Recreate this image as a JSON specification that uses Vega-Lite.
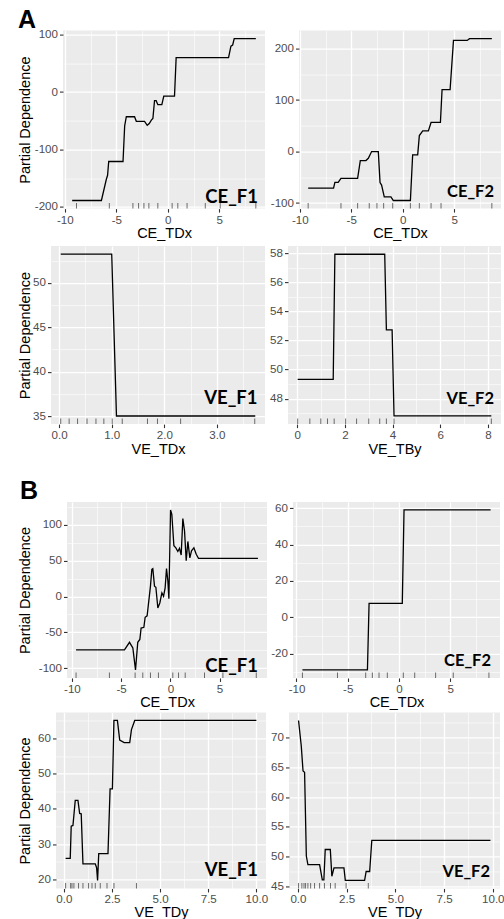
{
"$schema": "https://vega.github.io/schema/vega-lite/v6.json",
"background": "white",
"padding": {"left": 10, "top": 7.6, "right": 0, "bottom": 0},
"config": {
  "font": "Liberation Sans",
  "view": {"fill": "#EBEBEB", "stroke": null},
  "axis": {"domain": false, "grid": true, "gridColor": "#FFFFFF", "tickColor": "#333333", "tickWidth": 1.1, "tickSize": 3.5, "labelPadding": 2, "labelFont": "Liberation Sans", "labelFontSize": 11.6, "labelColor": "#4D4D4D", "titleFont": "Liberation Sans", "titleFontSize": 14.5, "titleFontWeight": "normal", "titleColor": "#000000", "labelOverlap": false, "labelFlush": false},
  "axisX": {"titlePadding": 4, "minExtent": 14, "maxExtent": 14},
  "axisY": {"titlePadding": 2},
  "title": {"anchor": "start", "frame": "bounds", "font": "Liberation Sans", "fontSize": 25, "fontWeight": "bold", "color": "#000000"}
},
"datasets": {
  "p1_line": [{"x":-9.29,"y":-189},{"x":-6.45,"y":-189},{"x":-5.97,"y":-152},{"x":-5.85,"y":-145},{"x":-5.74,"y":-121},{"x":-4.35,"y":-121},{"x":-4.19,"y":-59},{"x":-4.03,"y":-43},{"x":-3.23,"y":-43},{"x":-3.06,"y":-51},{"x":-2.26,"y":-51},{"x":-2.0,"y":-58},{"x":-1.8,"y":-55},{"x":-1.6,"y":-49},{"x":-1.45,"y":-46},{"x":-1.29,"y":-15},{"x":-1.13,"y":-15},{"x":-0.97,"y":-22},{"x":-0.58,"y":-22},{"x":-0.39,"y":-7},{"x":0.65,"y":-7},{"x":0.81,"y":60},{"x":5.9,"y":60},{"x":6.13,"y":80},{"x":6.3,"y":82},{"x":6.45,"y":93},{"x":8.55,"y":93}],
  "p1_rug": [{"x":-8.87},{"x":-5.68},{"x":-3.39},{"x":-2.84},{"x":-2.32},{"x":-1.84},{"x":-0.97},{"x":0.42},{"x":0.97},{"x":1.87},{"x":3.64},{"x":5.09},{"x":8.55}],
  "p2_line": [{"x":-9.19,"y":-71},{"x":-6.72,"y":-71},{"x":-6.59,"y":-60},{"x":-6.27,"y":-60},{"x":-6.0,"y":-52},{"x":-4.38,"y":-52},{"x":-4.12,"y":-17.5},{"x":-3.57,"y":-17.5},{"x":-3.34,"y":-13},{"x":-3.02,"y":0},{"x":-2.37,"y":0},{"x":-2.2,"y":-60},{"x":-2.05,"y":-65},{"x":-1.79,"y":-88},{"x":-1.14,"y":-88},{"x":-0.91,"y":-95},{"x":0.75,"y":-95},{"x":0.97,"y":-6.5},{"x":1.46,"y":-6.5},{"x":1.62,"y":31},{"x":1.95,"y":40},{"x":2.5,"y":40},{"x":2.76,"y":56.5},{"x":3.67,"y":56.5},{"x":3.83,"y":120},{"x":4.61,"y":120},{"x":4.94,"y":215.6},{"x":6.27,"y":215.6},{"x":6.5,"y":219},{"x":8.67,"y":219}],
  "p2_rug": [{"x":-9.19},{"x":-6.0},{"x":-4.38},{"x":-3.25},{"x":-2.5},{"x":-1.85},{"x":-0.97},{"x":0.75},{"x":1.62},{"x":2.76},{"x":3.73},{"x":8.67}],
  "p3_line": [{"x":0.03,"y":53.23},{"x":1.0,"y":53.23},{"x":1.09,"y":35.0},{"x":3.73,"y":35.0}],
  "p3_rug": [{"x":0.03},{"x":0.19},{"x":0.35},{"x":0.53},{"x":0.7},{"x":0.85},{"x":1.01},{"x":1.2},{"x":1.68},{"x":1.87},{"x":2.31},{"x":3.72}],
  "p4_line": [{"x":0.02,"y":49.32},{"x":1.51,"y":49.32},{"x":1.58,"y":57.93},{"x":3.67,"y":57.93},{"x":3.74,"y":52.73},{"x":3.98,"y":52.73},{"x":4.06,"y":46.81},{"x":8.14,"y":46.81}],
  "p4_rug": [{"x":0.02},{"x":0.53},{"x":0.99},{"x":1.27},{"x":1.55},{"x":2.03},{"x":2.49},{"x":3.0},{"x":3.46},{"x":3.74},{"x":4.06},{"x":8.14}],
  "p5_line": [{"x":-9.58,"y":-74.5},{"x":-4.66,"y":-74.5},{"x":-4.15,"y":-64},{"x":-3.81,"y":-72},{"x":-3.54,"y":-102.6},{"x":-3.31,"y":-64},{"x":-3.1,"y":-60},{"x":-2.97,"y":-44},{"x":-2.69,"y":-43},{"x":-2.56,"y":-29},{"x":-2.36,"y":-27},{"x":-2.02,"y":14.5},{"x":-1.88,"y":38},{"x":-1.78,"y":39},{"x":-1.61,"y":14.5},{"x":-1.47,"y":13},{"x":-1.27,"y":-16},{"x":-1.07,"y":-9},{"x":-0.86,"y":5},{"x":-0.69,"y":0.5},{"x":-0.53,"y":12},{"x":-0.39,"y":39},{"x":-0.25,"y":21.5},{"x":-0.15,"y":-3},{"x":0.02,"y":121},{"x":0.15,"y":115},{"x":0.36,"y":71},{"x":0.56,"y":68},{"x":0.76,"y":63},{"x":0.93,"y":67.5},{"x":1.1,"y":58},{"x":1.27,"y":109},{"x":1.44,"y":92},{"x":1.61,"y":50},{"x":1.78,"y":77},{"x":1.98,"y":54},{"x":2.15,"y":64},{"x":2.39,"y":68},{"x":2.63,"y":59},{"x":2.86,"y":53.4},{"x":8.9,"y":53.4}],
  "p5_rug": [{"x":-9.58},{"x":-6.19},{"x":-3.58},{"x":-2.8},{"x":-2.02},{"x":-1.21},{"x":0.25},{"x":0.83},{"x":1.51},{"x":3.47},{"x":5.34},{"x":8.73}],
  "p6_line": [{"x":-9.42,"y":-28.9},{"x":-3.08,"y":-28.9},{"x":-2.92,"y":7.7},{"x":0.32,"y":7.7},{"x":0.49,"y":59.0},{"x":8.93,"y":59.0}],
  "p6_rug": [{"x":-9.42},{"x":-6.0},{"x":-3.25},{"x":-2.6},{"x":-1.95},{"x":-1.14},{"x":0.42},{"x":1.53},{"x":3.57},{"x":5.29},{"x":8.77}],
  "p7_line": [{"x":0.09,"y":25.95},{"x":0.33,"y":25.95},{"x":0.38,"y":35.1},{"x":0.47,"y":35.3},{"x":0.59,"y":42.4},{"x":0.73,"y":42.4},{"x":0.82,"y":38.7},{"x":0.9,"y":38.6},{"x":0.99,"y":24.4},{"x":1.63,"y":24.4},{"x":1.7,"y":23.3},{"x":1.75,"y":19.7},{"x":1.81,"y":27.3},{"x":2.29,"y":27.3},{"x":2.4,"y":45.7},{"x":2.52,"y":45.7},{"x":2.6,"y":65.1},{"x":2.78,"y":65.1},{"x":2.9,"y":59.5},{"x":3.13,"y":58.8},{"x":3.42,"y":58.8},{"x":3.51,"y":62.5},{"x":3.68,"y":65.1},{"x":10.0,"y":65.1}],
  "p7_rug": [{"x":0.09},{"x":0.35},{"x":0.42},{"x":0.52},{"x":0.76},{"x":0.99},{"x":1.28},{"x":1.46},{"x":1.63},{"x":1.89},{"x":2.24},{"x":2.6},{"x":3.77}],
  "p8_line": [{"x":0.03,"y":72.9},{"x":0.17,"y":68.6},{"x":0.26,"y":64.4},{"x":0.34,"y":64.2},{"x":0.43,"y":50.1},{"x":0.51,"y":48.65},{"x":1.11,"y":48.65},{"x":1.25,"y":46.1},{"x":1.33,"y":46.1},{"x":1.4,"y":51.2},{"x":1.66,"y":51.2},{"x":1.74,"y":46.7},{"x":1.85,"y":48.1},{"x":2.36,"y":48.1},{"x":2.43,"y":46.0},{"x":3.42,"y":46.0},{"x":3.5,"y":47.5},{"x":3.68,"y":47.5},{"x":3.79,"y":52.75},{"x":9.88,"y":52.75}],
  "p8_rug": [{"x":0.03},{"x":0.2},{"x":0.31},{"x":0.39},{"x":0.51},{"x":0.65},{"x":0.85},{"x":1.11},{"x":1.36},{"x":1.67},{"x":1.91},{"x":2.47},{"x":3.61}]
},
"spacing": 23.35,
"vconcat": [
 {"title": {"text": "A", "offset": -4.3, "dx": 8},
  "spacing": 5.5,
  "vconcat": [
   {"spacing": 5, "hconcat": [
    {"width": 2, "height": 1, "view": {"fill": null, "stroke": null}, "data": {"values": []}, "mark": {"type": "point", "opacity": 0}},
    {"width": 202, "height": 178,
     "encoding": {
      "x": {"field": "x", "type": "quantitative", "scale": {"domain": [-10.18, 9.44], "nice": false, "zero": false},
            "axis": {"title": "CE_TDx", "values": [-10,-7.5,-5,-2.5,0,2.5,5,7.5], "labelExpr": "datum.value % 5 === 0 ? replace(datum.label, '\u2212', '-') : ''", "tickOpacity": {"condition": {"test": "datum.value % 5 === 0", "value": 1}, "value": 0}, "gridWidth": {"condition": {"test": "datum.value % 5 === 0", "value": 1.3}, "value": 0.6}}},
      "y": {"field": "y", "type": "quantitative", "scale": {"domain": [-203.1, 107.1], "nice": false, "zero": false},
            "axis": {"title": "Partial Dependence", "minExtent": 28.5, "maxExtent": 28.5, "values": [-200,-150,-100,-50,0,50,100], "labelExpr": "datum.value % 100 === 0 ? replace(datum.label, '\u2212', '-') : ''", "tickOpacity": {"condition": {"test": "datum.value % 100 === 0", "value": 1}, "value": 0}, "gridWidth": {"condition": {"test": "datum.value % 100 === 0", "value": 1.3}, "value": 0.6}}}
     },
     "layer": [
      {"data": {"name": "p1_line"}, "mark": {"type": "line", "color": "#000000", "strokeWidth": 1.3}},
      {"data": {"name": "p1_rug"}, "mark": {"type": "tick", "orient": "vertical", "color": "#333333", "thickness": 1, "size": 11, "clip": true}, "encoding": {"y": {"value": "height"}}},
      {"data": {"values": [{"label": "CE_F1"}]}, "mark": {"type": "text", "font": "Lato", "fontWeight": "bold", "fontSize": 18.5, "align": "right", "baseline": "alphabetic", "dx": -7, "dy": -5.5, "color": "#000000"}, "encoding": {"x": {"value": "width"}, "y": {"value": "height"}, "text": {"field": "label", "type": "nominal"}}}
     ]},
    {"width": 202, "height": 178,
     "encoding": {
      "x": {"field": "x", "type": "quantitative", "scale": {"domain": [-10.08, 9.56], "nice": false, "zero": false},
            "axis": {"title": "CE_TDx", "values": [-10,-7.5,-5,-2.5,0,2.5,5,7.5], "labelExpr": "datum.value % 5 === 0 ? replace(datum.label, '\u2212', '-') : ''", "tickOpacity": {"condition": {"test": "datum.value % 5 === 0", "value": 1}, "value": 0}, "gridWidth": {"condition": {"test": "datum.value % 5 === 0", "value": 1.3}, "value": 0.6}}},
      "y": {"field": "y", "type": "quantitative", "scale": {"domain": [-110.7, 234.7], "nice": false, "zero": false},
            "axis": {"title": null, "values": [-100,-50,0,50,100,150,200], "labelExpr": "datum.value % 100 === 0 ? replace(datum.label, '\u2212', '-') : ''", "tickOpacity": {"condition": {"test": "datum.value % 100 === 0", "value": 1}, "value": 0}, "gridWidth": {"condition": {"test": "datum.value % 100 === 0", "value": 1.3}, "value": 0.6}}}
     },
     "layer": [
      {"data": {"name": "p2_line"}, "mark": {"type": "line", "color": "#000000", "strokeWidth": 1.3}},
      {"data": {"name": "p2_rug"}, "mark": {"type": "tick", "orient": "vertical", "color": "#333333", "thickness": 1, "size": 11, "clip": true}, "encoding": {"y": {"value": "height"}}},
      {"data": {"values": [{"label": "CE_F2"}]}, "mark": {"type": "text", "font": "Lato", "fontWeight": "bold", "fontSize": 16.5, "align": "right", "baseline": "alphabetic", "dx": -7, "dy": -11.5, "color": "#000000"}, "encoding": {"x": {"value": "width"}, "y": {"value": "height"}, "text": {"field": "label", "type": "nominal"}}}
     ]}
   ]},
   {"spacing": 4, "hconcat": [
    {"width": 3, "height": 1, "view": {"fill": null, "stroke": null}, "data": {"values": []}, "mark": {"type": "point", "opacity": 0}},
    {"width": 214, "height": 178,
     "encoding": {
      "x": {"field": "x", "type": "quantitative", "scale": {"domain": [-0.155, 3.915], "nice": false, "zero": false},
            "axis": {"title": "VE_TDx", "values": [0,0.5,1,1.5,2,2.5,3,3.5], "labelExpr": "datum.value % 1 === 0 ? datum.label : ''", "tickOpacity": {"condition": {"test": "datum.value % 1 === 0", "value": 1}, "value": 0}, "gridWidth": {"condition": {"test": "datum.value % 1 === 0", "value": 1.3}, "value": 0.6}}},
      "y": {"field": "y", "type": "quantitative", "scale": {"domain": [34.09, 54.14], "nice": false, "zero": false},
            "axis": {"title": "Partial Dependence", "minExtent": 16.5, "maxExtent": 16.5, "values": [35,37.5,40,42.5,45,47.5,50,52.5], "labelExpr": "datum.value % 5 === 0 ? datum.label : ''", "tickOpacity": {"condition": {"test": "datum.value % 5 === 0", "value": 1}, "value": 0}, "gridWidth": {"condition": {"test": "datum.value % 5 === 0", "value": 1.3}, "value": 0.6}}}
     },
     "layer": [
      {"data": {"name": "p3_line"}, "mark": {"type": "line", "color": "#000000", "strokeWidth": 1.3}},
      {"data": {"name": "p3_rug"}, "mark": {"type": "tick", "orient": "vertical", "color": "#333333", "thickness": 1, "size": 11, "clip": true}, "encoding": {"y": {"value": "height"}}},
      {"data": {"values": [{"label": "VE_F1"}]}, "mark": {"type": "text", "font": "Lato", "fontWeight": "bold", "fontSize": 18.5, "align": "right", "baseline": "alphabetic", "dx": -7.5, "dy": -20.5, "color": "#000000"}, "encoding": {"x": {"value": "width"}, "y": {"value": "height"}, "text": {"field": "label", "type": "nominal"}}}
     ]},
    {"width": 213, "height": 178,
     "encoding": {
      "x": {"field": "x", "type": "quantitative", "scale": {"domain": [-0.386, 8.546], "nice": false, "zero": false},
            "axis": {"title": "VE_TBy", "values": [0,1,2,3,4,5,6,7,8], "labelExpr": "datum.value % 2 === 0 ? datum.label : ''", "tickOpacity": {"condition": {"test": "datum.value % 2 === 0", "value": 1}, "value": 0}, "gridWidth": {"condition": {"test": "datum.value % 2 === 0", "value": 1.3}, "value": 0.6}}},
      "y": {"field": "y", "type": "quantitative", "scale": {"domain": [46.25, 58.49], "nice": false, "zero": false},
            "axis": {"title": null, "values": [47,48,49,50,51,52,53,54,55,56,57,58], "labelExpr": "datum.value % 2 === 0 ? datum.label : ''", "tickOpacity": {"condition": {"test": "datum.value % 2 === 0", "value": 1}, "value": 0}, "gridWidth": {"condition": {"test": "datum.value % 2 === 0", "value": 1.3}, "value": 0.6}}}
     },
     "layer": [
      {"data": {"name": "p4_line"}, "mark": {"type": "line", "color": "#000000", "strokeWidth": 1.3}},
      {"data": {"name": "p4_rug"}, "mark": {"type": "tick", "orient": "vertical", "color": "#333333", "thickness": 1, "size": 11, "clip": true}, "encoding": {"y": {"value": "height"}}},
      {"data": {"values": [{"label": "VE_F2"}]}, "mark": {"type": "text", "font": "Lato", "fontWeight": "bold", "fontSize": 16.5, "align": "right", "baseline": "alphabetic", "dx": -7, "dy": -20.5, "color": "#000000"}, "encoding": {"x": {"value": "width"}, "y": {"value": "height"}, "text": {"field": "label", "type": "nominal"}}}
     ]}
   ]}
  ]},
 {"title": {"text": "B", "offset": -2.85, "dx": 10},
  "spacing": 2.5,
  "vconcat": [
   {"spacing": 3, "hconcat": [
    {"width": 4, "height": 1, "view": {"fill": null, "stroke": null}, "data": {"values": []}, "mark": {"type": "point", "opacity": 0}},
    {"width": 200, "height": 176,
     "encoding": {
      "x": {"field": "x", "type": "quantitative", "scale": {"domain": [-10.5, 9.82], "nice": false, "zero": false},
            "axis": {"title": "CE_TDx", "values": [-10,-7.5,-5,-2.5,0,2.5,5,7.5], "labelExpr": "datum.value % 5 === 0 ? replace(datum.label, '\u2212', '-') : ''", "tickOpacity": {"condition": {"test": "datum.value % 5 === 0", "value": 1}, "value": 0}, "gridWidth": {"condition": {"test": "datum.value % 5 === 0", "value": 1.3}, "value": 0.6}}},
      "y": {"field": "y", "type": "quantitative", "scale": {"domain": [-113.8, 132.2], "nice": false, "zero": false},
            "axis": {"title": "Partial Dependence", "minExtent": 32.5, "maxExtent": 32.5, "values": [-100,-75,-50,-25,0,25,50,75,100,125], "labelExpr": "datum.value % 50 === 0 ? replace(datum.label, '\u2212', '-') : ''", "tickOpacity": {"condition": {"test": "datum.value % 50 === 0", "value": 1}, "value": 0}, "gridWidth": {"condition": {"test": "datum.value % 50 === 0", "value": 1.3}, "value": 0.6}}}
     },
     "layer": [
      {"data": {"name": "p5_line"}, "mark": {"type": "line", "color": "#000000", "strokeWidth": 1.3}},
      {"data": {"name": "p5_rug"}, "mark": {"type": "tick", "orient": "vertical", "color": "#333333", "thickness": 1, "size": 11, "clip": true}, "encoding": {"y": {"value": "height"}}},
      {"data": {"values": [{"label": "CE_F1"}]}, "mark": {"type": "text", "font": "Lato", "fontWeight": "bold", "fontSize": 18.5, "align": "right", "baseline": "alphabetic", "dx": -9, "dy": -5.5, "color": "#000000"}, "encoding": {"x": {"value": "width"}, "y": {"value": "height"}, "text": {"field": "label", "type": "nominal"}}}
     ]},
    {"width": 207, "height": 176,
     "encoding": {
      "x": {"field": "x", "type": "quantitative", "scale": {"domain": [-10.34, 9.85], "nice": false, "zero": false},
            "axis": {"title": "CE_TDx", "values": [-10,-7.5,-5,-2.5,0,2.5,5,7.5], "labelExpr": "datum.value % 5 === 0 ? replace(datum.label, '\u2212', '-') : ''", "tickOpacity": {"condition": {"test": "datum.value % 5 === 0", "value": 1}, "value": 0}, "gridWidth": {"condition": {"test": "datum.value % 5 === 0", "value": 1.3}, "value": 0.6}}},
      "y": {"field": "y", "type": "quantitative", "scale": {"domain": [-33.3, 63.4], "nice": false, "zero": false},
            "axis": {"title": null, "values": [-30,-20,-10,0,10,20,30,40,50,60], "labelExpr": "datum.value % 20 === 0 ? replace(datum.label, '\u2212', '-') : ''", "tickOpacity": {"condition": {"test": "datum.value % 20 === 0", "value": 1}, "value": 0}, "gridWidth": {"condition": {"test": "datum.value % 20 === 0", "value": 1.3}, "value": 0.6}}}
     },
     "layer": [
      {"data": {"name": "p6_line"}, "mark": {"type": "line", "color": "#000000", "strokeWidth": 1.3}},
      {"data": {"name": "p6_rug"}, "mark": {"type": "tick", "orient": "vertical", "color": "#333333", "thickness": 1, "size": 11, "clip": true}, "encoding": {"y": {"value": "height"}}},
      {"data": {"values": [{"label": "CE_F2"}]}, "mark": {"type": "text", "font": "Lato", "fontWeight": "bold", "fontSize": 16.5, "align": "right", "baseline": "alphabetic", "dx": -9, "dy": -12, "color": "#000000"}, "encoding": {"x": {"value": "width"}, "y": {"value": "height"}, "text": {"field": "label", "type": "nominal"}}}
     ]}
   ]},
   {"spacing": 2, "hconcat": [
    {"width": 5, "height": 1, "view": {"fill": null, "stroke": null}, "data": {"values": []}, "mark": {"type": "point", "opacity": 0}},
    {"width": 210, "height": 176,
     "encoding": {
      "x": {"field": "x", "type": "quantitative", "scale": {"domain": [-0.41, 10.5], "nice": false, "zero": false},
            "axis": {"title": "VE_TDy", "titlePadding": 3, "labelPadding": 1.5, "format": ".1f", "values": [0,1.25,2.5,3.75,5,6.25,7.5,8.75,10], "labelExpr": "datum.value % 2.5 === 0 ? datum.label : ''", "tickOpacity": {"condition": {"test": "datum.value % 2.5 === 0", "value": 1}, "value": 0}, "gridWidth": {"condition": {"test": "datum.value % 2.5 === 0", "value": 1.3}, "value": 0.6}}},
      "y": {"field": "y", "type": "quantitative", "scale": {"domain": [17.43, 67.37], "nice": false, "zero": false},
            "axis": {"title": "Partial Dependence", "minExtent": 21.5, "maxExtent": 21.5, "values": [20,25,30,35,40,45,50,55,60,65], "labelExpr": "datum.value % 10 === 0 ? datum.label : ''", "tickOpacity": {"condition": {"test": "datum.value % 10 === 0", "value": 1}, "value": 0}, "gridWidth": {"condition": {"test": "datum.value % 10 === 0", "value": 1.3}, "value": 0.6}}}
     },
     "layer": [
      {"data": {"name": "p7_line"}, "mark": {"type": "line", "color": "#000000", "strokeWidth": 1.3}},
      {"data": {"name": "p7_rug"}, "mark": {"type": "tick", "orient": "vertical", "color": "#333333", "thickness": 1, "size": 11, "clip": true}, "encoding": {"y": {"value": "height"}}},
      {"data": {"values": [{"label": "VE_F1"}]}, "mark": {"type": "text", "font": "Lato", "fontWeight": "bold", "fontSize": 18.5, "align": "right", "baseline": "alphabetic", "dx": -8, "dy": -12, "color": "#000000"}, "encoding": {"x": {"value": "width"}, "y": {"value": "height"}, "text": {"field": "label", "type": "nominal"}}}
     ]},
    {"width": 211, "height": 176,
     "encoding": {
      "x": {"field": "x", "type": "quantitative", "scale": {"domain": [-0.46, 10.37], "nice": false, "zero": false},
            "axis": {"title": "VE_TDy", "titlePadding": 3, "labelPadding": 1.5, "format": ".1f", "values": [0,1.25,2.5,3.75,5,6.25,7.5,8.75,10], "labelExpr": "datum.value % 2.5 === 0 ? datum.label : ''", "tickOpacity": {"condition": {"test": "datum.value % 2.5 === 0", "value": 1}, "value": 0}, "gridWidth": {"condition": {"test": "datum.value % 2.5 === 0", "value": 1.3}, "value": 0.6}}},
      "y": {"field": "y", "type": "quantitative", "scale": {"domain": [44.65, 74.25], "nice": false, "zero": false},
            "axis": {"title": null, "values": [45,47.5,50,52.5,55,57.5,60,62.5,65,67.5,70,72.5], "labelExpr": "datum.value % 5 === 0 ? datum.label : ''", "tickOpacity": {"condition": {"test": "datum.value % 5 === 0", "value": 1}, "value": 0}, "gridWidth": {"condition": {"test": "datum.value % 5 === 0", "value": 1.3}, "value": 0.6}}}
     },
     "layer": [
      {"data": {"name": "p8_line"}, "mark": {"type": "line", "color": "#000000", "strokeWidth": 1.3}},
      {"data": {"name": "p8_rug"}, "mark": {"type": "tick", "orient": "vertical", "color": "#333333", "thickness": 1, "size": 11, "clip": true}, "encoding": {"y": {"value": "height"}}},
      {"data": {"values": [{"label": "VE_F2"}]}, "mark": {"type": "text", "font": "Lato", "fontWeight": "bold", "fontSize": 16.5, "align": "right", "baseline": "alphabetic", "dx": -10, "dy": -11.5, "color": "#000000"}, "encoding": {"x": {"value": "width"}, "y": {"value": "height"}, "text": {"field": "label", "type": "nominal"}}}
     ]}
   ]}
  ]}
]
}
